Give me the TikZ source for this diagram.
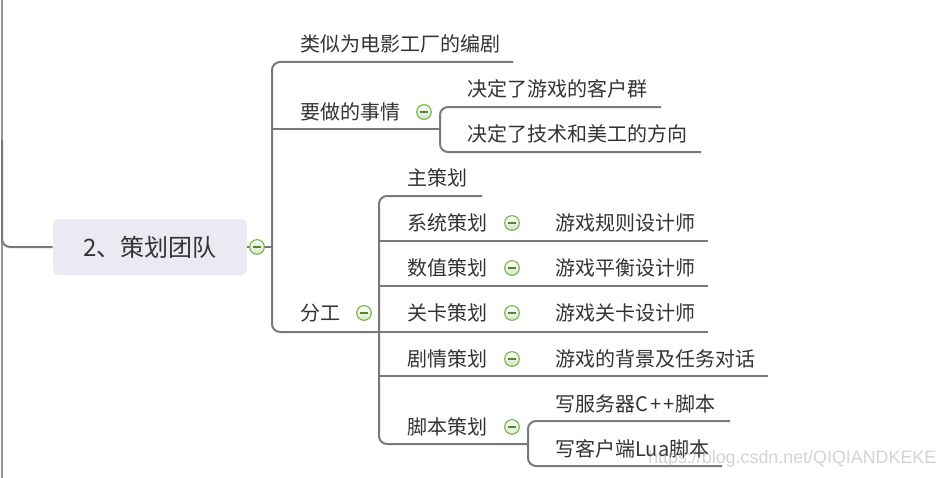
\documentclass[tikz,border=0pt]{standalone}
\usepackage{fontspec}
\setmainfont{Noto Sans CJK SC}
\newfontfamily\wmfont{Liberation Sans}

\definecolor{linegray}{HTML}{7A7A7A}
\definecolor{txt}{HTML}{333333}
\definecolor{rootfill}{HTML}{E9EAF2}
\definecolor{btngreen}{HTML}{6DB33F}
\definecolor{btnfill}{HTML}{D6E6CC}

\tikzset{
    branch/.style={draw=linegray, line width=1.5pt, rounded corners=6pt},
    topic/.style={anchor=west, inner sep=0pt, text=txt, font=\fontsize{15}{18}\selectfont},
    btn/.style={circle, draw=btngreen, line width=0.8pt, top color=white, bottom color=btnfill,
        minimum size=11pt, inner sep=0pt,
        path picture={\draw [btngreen!75!black, line width=0.9pt]
            ([xshift=-3.2pt]path picture bounding box.center) -- ([xshift=3.2pt]path picture bounding box.center);}},
}

\begin{document}
\begin{tikzpicture}[x=0.75pt,y=-0.75pt]
    \useasboundingbox (0,0) rectangle (942,478);

    % line of the parent map
    \coordinate (lt) at (2,0);
    \coordinate (lb) at (2,478);
    \coordinate (lm) at (2,140);
    \draw [linegray!80, line width=1.2pt] (lt) -- (lb);

    \node (root) [fill=rootfill, rounded corners=4pt, minimum width=145.5pt, minimum height=42pt,
        text=txt, font=\fontsize{18}{22}\selectfont] at (150,247) {2、策划团队};
    \draw [branch] (lm) |- (root.west);

    % main trunk
    \coordinate (m1) at (513,62);
    \coordinate (m2) at (272,129);
    \coordinate (mc) at (272,247);
    \coordinate (m3) at (272,332);
    \coordinate (s0) at (379,332);
    \coordinate (a0) at (440,129);
    \draw [branch] (m1) -| (m3) -- (s0);
    \draw [branch] (root.east) -- (mc);
    \draw [branch] (m2) -- (a0);

    % trunk of 要做的事情
    \coordinate (a1) at (661,107);
    \coordinate (a2) at (440,152);
    \coordinate (a2e) at (701,152);
    \draw [branch] (a1) -| (a2) -- (a2e);

    % trunk of 分工
    \coordinate (s1) at (482,196);
    \coordinate (s6) at (379,444);
    \coordinate (c0) at (528,444);
    \draw [branch] (s1) -| (s6) -- (c0);
    \foreach \y/\e [count=\i] in {241/708, 286/708, 332/708, 376/768} {
        \coordinate (sa\i) at (379,\y);
        \coordinate (se\i) at (\e,\y);
        \draw [branch] (sa\i) -- (se\i);
    }

    % trunk of 脚本策划
    \coordinate (c1) at (730,421);
    \coordinate (c2) at (528,466);
    \coordinate (c2e) at (722,466);
    \draw [branch] (c1) -| (c2) -- (c2e);

    % topics
    \node (t1) [topic] at (300,44) {类似为电影工厂的编剧};
    \node (t2) [topic] at (300,112) {要做的事情};
    \node (t21) [topic] at (467,89) {决定了游戏的客户群};
    \node (t22) [topic] at (467,134) {决定了技术和美工的方向};
    \node (t3) [topic] at (300,313) {分工};
    \node (t31) [topic] at (407,178) {主策划};
    \node (t32) [topic] at (407,223) {系统策划};
    \node (t33) [topic] at (407,268) {数值策划};
    \node (t34) [topic] at (407,313) {关卡策划};
    \node (t35) [topic] at (407,359) {剧情策划};
    \node (t36) [topic] at (407,427) {脚本策划};
    \node (t321) [topic] at (555,223) {游戏规则设计师};
    \node (t331) [topic] at (555,268) {游戏平衡设计师};
    \node (t341) [topic] at (555,313) {游戏关卡设计师};
    \node (t351) [topic] at (555,359) {游戏的背景及任务对话};
    \node (t361) [topic] at (555,404) {写服务器C\kern1.5pt+\kern1.5pt+\kern1pt 脚本};
    \node (t362) [topic] at (555,449) {写客户端Lua脚本};

    % collapse buttons
    \node (b0) [btn] at (257,247) {};
    \node (b2) [btn] at (424,112) {};
    \node (b3) [btn] at (364,313) {};
    \node (b32) [btn] at (512,223) {};
    \node (b33) [btn] at (512,268) {};
    \node (b34) [btn] at (512,313) {};
    \node (b35) [btn] at (512,359) {};
    \node (b36) [btn] at (512,427) {};

    % watermark
    \node (wm) [anchor=west, inner sep=0pt, text=gray, opacity=0.35,
        font=\wmfont\fontsize{13.4}{15}\selectfont] at (648,459) {https://blog.csdn.net/QIQIANDKEKE};

\end{tikzpicture}
\end{document}
